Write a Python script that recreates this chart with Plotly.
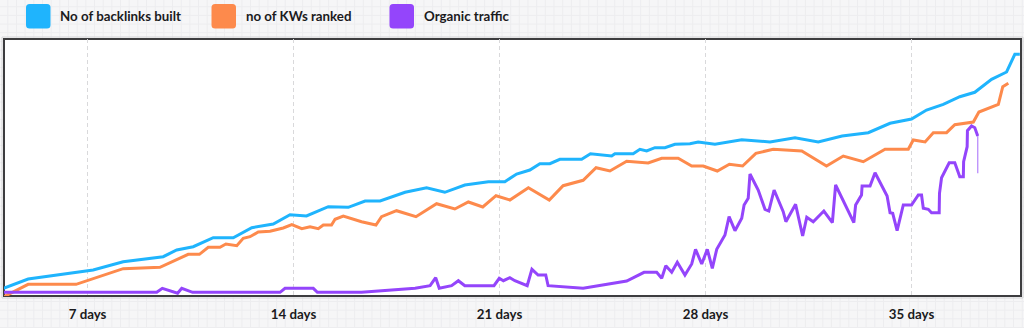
import plotly.graph_objects as go

# ---------------- data ----------------
days_blue = [4.14, 4.98, 7.19, 8.21, 9.57, 10.03, 10.59, 11.27, 11.95, 12.58, 13.31, 13.88,
             14.44, 15.18, 15.86, 16.43, 16.94, 17.79, 18.52, 19.14, 19.82, 20.62, 21.18,
             21.58, 22.03, 22.37, 22.71, 23.05, 23.79, 24.09, 24.81, 24.92, 25.54, 25.77,
             26.00, 26.28, 26.62, 26.96, 27.47, 27.75, 28.32, 29.23, 30.19, 31.04, 31.83,
             32.64, 33.53, 34.27, 35.00, 35.51, 36.08, 36.64, 37.15, 37.72, 38.23, 38.51, 38.68]
backlinks = [7.7, 17, 26, 34.3, 39.3, 46, 49.3, 58.3, 58.3, 68.3, 72, 81.3,
             80, 89.3, 88.7, 95, 95, 103.7, 108.3, 103.7, 111, 114.3, 114.3,
             122, 126, 132.3, 132.3, 136.7, 136.7, 142.3, 140, 142.3, 142.3, 146.7,
             145, 148.3, 148.3, 151.7, 152.3, 154, 151.7, 156.3, 154, 158.3, 154,
             160, 163.3, 172.7, 177, 186, 191.7, 199.3, 203.7, 216.7, 224, 241.7, 241.7]

days_orange = [4.14, 4.98, 6.61, 8.21, 9.46, 10.42, 10.80, 11.10, 11.50, 11.70, 12.07, 12.29,
               12.52, 12.80, 13.20, 13.65, 13.94, 14.28, 14.56, 14.84, 15.01, 15.29, 15.41,
               15.69, 16.31, 16.80, 16.99, 17.50, 18.16, 18.86, 19.48, 19.94, 20.43, 20.88,
               21.35, 21.98, 22.69, 23.16, 23.84, 24.28, 24.75, 25.32, 26.05, 26.51, 27.07,
               27.53, 27.92, 28.40, 28.81, 29.26, 29.71, 30.30, 31.27, 32.11, 32.68, 33.36,
               34.10, 34.89, 35.06, 35.46, 35.74, 36.19, 36.47, 37.10, 37.29, 37.95, 38.10, 38.29]
kws_ranked = [-1, 11.7, 11.7, 27.3, 28.7, 41.7, 41.7, 48.7, 48.7, 52, 50.3, 57.7,
              59.3, 64, 64.7, 68, 71.3, 67.3, 69.3, 67.3, 71, 71, 76.7,
              80, 74.3, 71, 79.3, 85.3, 79.3, 92.3, 87, 94, 89, 100.3,
              96, 108.3, 96, 110.3, 115.7, 128.3, 125, 134.7, 133, 137.7, 137.7,
              130, 130, 125, 131.7, 130, 142.7, 146.7, 145, 130, 140, 134.3,
              146.7, 146.7, 156, 154, 163.3, 163.3, 171.3, 174, 184, 191.7, 209.3, 212.7]

days_purple = [4.14, 9.35, 9.54, 10.06, 10.20, 10.57, 13.54, 13.71, 14.67, 14.81, 16.31, 18.13,
               18.64, 18.83, 18.95, 19.37, 19.60, 19.82, 20.81, 20.99, 21.13, 21.35, 21.52,
               21.94, 22.10, 22.31, 22.57, 22.65, 23.84, 25.32, 25.91, 26.34, 26.51, 26.65,
               26.85, 27.04, 27.30, 27.53, 27.66, 27.87, 28.06, 28.23, 28.38, 28.66, 28.80,
               29.00, 29.23, 29.31, 29.45, 29.51, 29.79, 30.02, 30.15, 30.33, 30.64, 30.73,
               31.06, 31.30, 31.44, 31.66, 32.02, 32.31, 32.42, 33.04, 33.10, 33.30, 33.32,
               33.59, 33.76, 34.17, 34.27, 34.36, 34.51, 34.72, 35.00, 35.23, 35.34, 35.40,
               35.57, 35.68, 35.94, 35.95, 36.02, 36.28, 36.47, 36.64, 36.76, 36.77, 36.89,
               36.90, 37.04, 37.15, 37.25, 37.25]
organic_traffic = [3.7, 3.7, 7.7, 2.7, 7.7, 3.7, 3.7, 7.7, 7.7, 3.7, 3.7, 7.7,
                   10.3, 18.3, 7.7, 10.3, 15.3, 10.3, 10.3, 17.7, 15.3, 18.3, 15.3,
                   10.3, 26.7, 21, 21, 10.3, 7.7, 15, 23.7, 23.7, 17.7, 30.3,
                   23.7, 33.7, 21, 32, 46.7, 32, 46.7, 27.7, 46.7, 61, 79.3,
                   65.3, 77.7, 91, 97.7, 122, 106, 86.7, 85, 106, 84.3, 74.3,
                   91.7, 60, 78.7, 74.3, 85, 73.3, 111, 73.3, 91, 101, 110,
                   110, 123.3, 100, 83.3, 82.7, 65.3, 91, 91, 101, 101, 87.7,
                   86.7, 83.3, 83.3, 102.7, 118.3, 133.3, 133.3, 119.3, 119.3, 134.3, 149.3,
                   165.3, 170, 168.3, 160, 122.7]

series_names = ["No of backlinks built", "no of KWs ranked", "Organic traffic"]
series_colors = ["#1fb4fd", "#fd8a4c", "#9445fb"]

tick_vals = [7, 14, 21, 28, 35]
tick_text = ["7 days", "14 days", "21 days", "28 days", "35 days"]

# ---------------- layout geometry (pixels) ----------------
W, H = 1024, 328
PL, PR, PT, PB = 4, 1021, 39, 296
X_RANGE = [4.16, 38.72]
Y_RANGE = [0, 257]


def fx(p):
    return (p - PL) / (PR - PL)


def fy(p):
    return (PB - p) / (PB - PT)


fig = go.Figure()

fig.add_trace(go.Scatter(x=days_blue, y=backlinks, mode="lines", name=series_names[0],
                         line=dict(color=series_colors[0], width=3), showlegend=False))
fig.add_trace(go.Scatter(x=days_orange, y=kws_ranked, mode="lines", name=series_names[1],
                         line=dict(color=series_colors[1], width=3), showlegend=False))
fig.add_trace(go.Scatter(x=days_purple[:-1], y=organic_traffic[:-1], mode="lines", name=series_names[2],
                         line=dict(color=series_colors[2], width=3), showlegend=False))
fig.add_trace(go.Scatter(x=days_purple[-2:], y=organic_traffic[-2:], mode="lines", name=series_names[2],
                         line=dict(color="#b98cfb", width=1.3), showlegend=False))

shapes = []
# graph-paper background
GRID_COLOR = "#ededef"
k = 0
while True:
    xp = 7.8 + 8.67 * k
    if xp > W:
        break
    shapes.append(dict(type="line", xref="paper", yref="paper", x0=fx(xp), x1=fx(xp),
                       y0=fy(0), y1=fy(H), line=dict(color=GRID_COLOR, width=1), layer="below"))
    k += 1
k = 0
while True:
    yp = 6.7 + 8.67 * k
    if yp > H:
        break
    shapes.append(dict(type="line", xref="paper", yref="paper", x0=fx(0), x1=fx(W),
                       y0=fy(yp), y1=fy(yp), line=dict(color=GRID_COLOR, width=1), layer="below"))
    k += 1

# plot box
shapes.append(dict(type="rect", xref="paper", yref="paper", x0=fx(PL - 2), x1=fx(PR + 2),
                   y0=fy(PB + 2), y1=fy(PT - 2), fillcolor="rgba(0,0,0,0)",
                   line=dict(color="#d4d4d6", width=1), layer="below"))
shapes.append(dict(type="rect", xref="paper", yref="paper", x0=0, x1=1, y0=0, y1=1,
                   fillcolor="#ffffff", line=dict(color="#3d3d3f", width=2), layer="below"))


def rounded_square(x0, y0, size, r):
    x1, y1 = x0 + size, y0 + size
    pts = [
        f"M{fx(x0 + r)},{fy(y0)}",
        f"L{fx(x1 - r)},{fy(y0)}",
        f"Q{fx(x1)},{fy(y0)} {fx(x1)},{fy(y0 + r)}",
        f"L{fx(x1)},{fy(y1 - r)}",
        f"Q{fx(x1)},{fy(y1)} {fx(x1 - r)},{fy(y1)}",
        f"L{fx(x0 + r)},{fy(y1)}",
        f"Q{fx(x0)},{fy(y1)} {fx(x0)},{fy(y1 - r)}",
        f"L{fx(x0)},{fy(y0 + r)}",
        f"Q{fx(x0)},{fy(y0)} {fx(x0 + r)},{fy(y0)}",
        "Z",
    ]
    return " ".join(pts)


legend_sq_x = [26, 211.5, 389.5]
legend_txt_x = [58, 243.5, 421.5]
annotations = []
for i in range(3):
    shapes.append(dict(type="path", xref="paper", yref="paper",
                       path=rounded_square(legend_sq_x[i], 4, 24.5, 3.5),
                       fillcolor=series_colors[i], line=dict(width=0), layer="above"))
    annotations.append(dict(x=fx(legend_txt_x[i]), y=fy(15.8), xref="paper", yref="paper",
                            text=series_names[i], showarrow=False, xanchor="left", yanchor="middle",
                            font=dict(family="Lato", size=13.3, color="#1b1b1d", weight=700)))

fig.update_layout(
    width=W, height=H,
    margin=dict(l=PL, r=W - PR, t=PT, b=H - PB, pad=0),
    paper_bgcolor="#f6f6f7",
    plot_bgcolor="#ffffff",
    shapes=shapes,
    annotations=annotations,
    showlegend=False,
    xaxis=dict(range=X_RANGE, tickvals=tick_vals, ticktext=tick_text, showgrid=True,
               gridcolor="#d9d9db", griddash="4px,3px", gridwidth=1, zeroline=False,
               showline=False, ticks="", ticklabelstandoff=9,
               tickfont=dict(family="Lato", size=13.3, color="#1b1b1d", weight=700)),
    yaxis=dict(range=Y_RANGE, showgrid=False, zeroline=False, showticklabels=False,
               showline=False, ticks=""),
)

fig.write_html("out.html")
